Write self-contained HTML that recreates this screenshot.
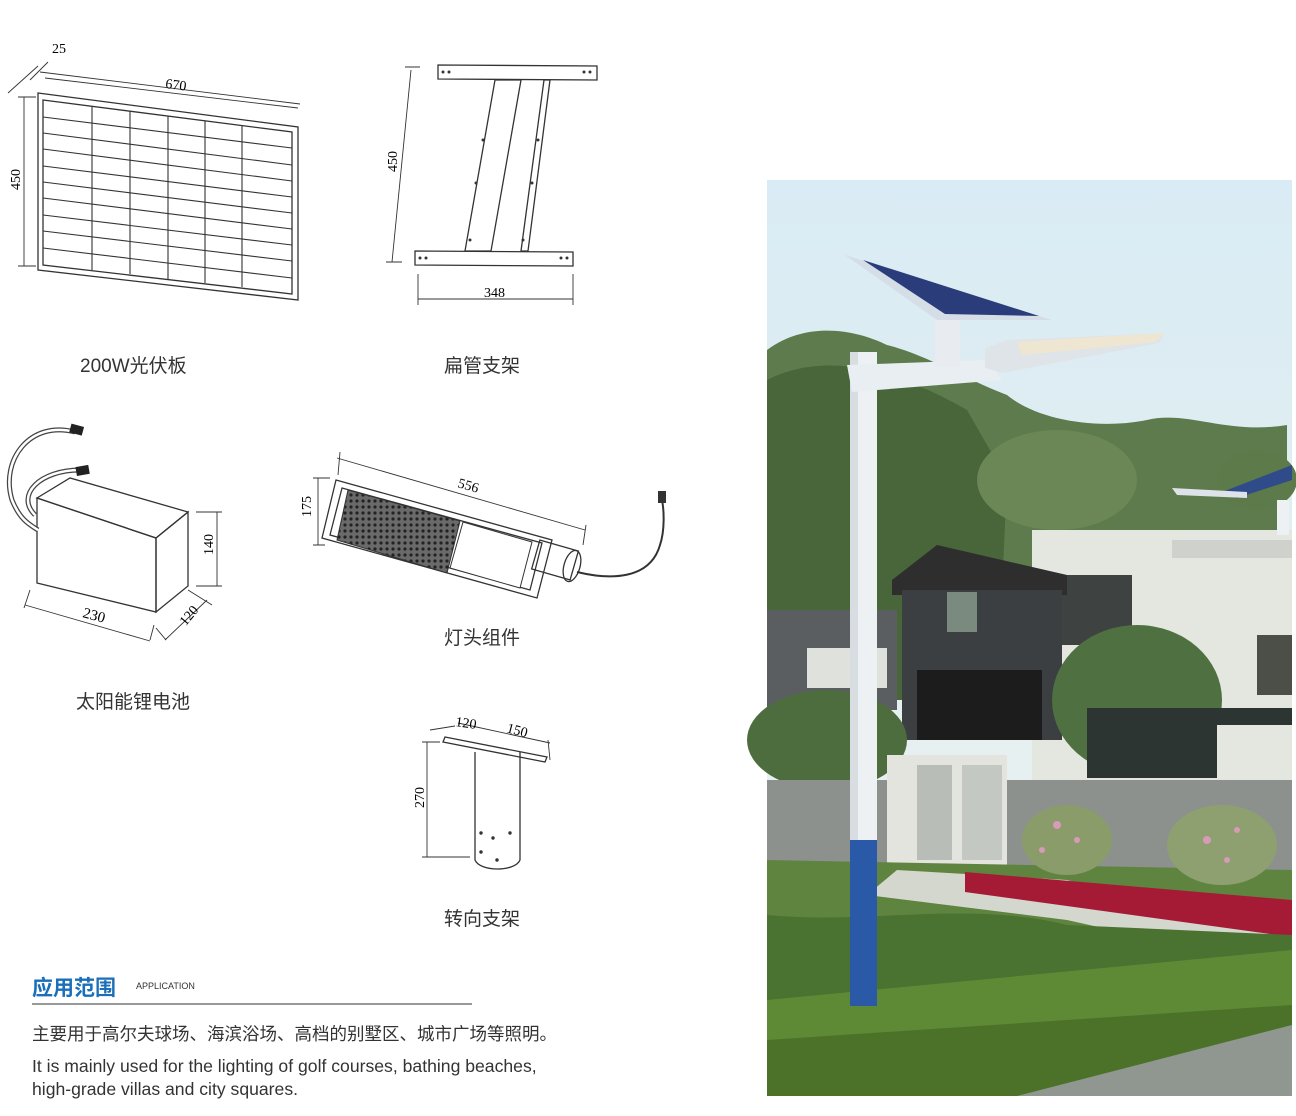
<!DOCTYPE html>
<html><head><meta charset="utf-8"><style>
body{margin:0;background:#fff;width:1296px;height:1116px;overflow:hidden;position:relative;font-family:"Liberation Sans","Noto Sans CJK SC",sans-serif;}
.t{position:absolute;color:#333;white-space:nowrap}
</style></head><body>
<svg width="1296" height="1116" style="position:absolute;left:0;top:0" font-family="Liberation Serif, serif">
<defs>
<linearGradient id="sky" x1="0" y1="0" x2="0" y2="1"><stop offset="0" stop-color="#d9ebf4"/><stop offset="1" stop-color="#eef3ee"/></linearGradient>
<pattern id="cells" width="6" height="6" patternUnits="userSpaceOnUse"><rect width="6" height="6" fill="#6a6a6a"/><circle cx="3" cy="3" r="1.6" fill="#222"/></pattern>
</defs>
<!-- solar panel drawing -->
<g fill="none" stroke="#333" stroke-width="1.3">
<polygon points="38,93 298,127 298,300 38,270"/>
<polygon points="43,100 292,132 292,294 43,265"/>
<g stroke-width="1.1">
<path d="M92,106V270 M130,111V274 M168,116V279 M205,121V283 M242,126V287"/>
<path d="M43,117L292,148 M43,133L292,165 M43,149L292,181 M43,166L292,197 M43,182L292,213 M43,198L292,229 M43,215L292,245 M43,231L292,261 M43,248L292,278"/>
</g>
<g stroke-width="0.9">
<path d="M24,97V266 M18,97H36 M18,266H36"/>
<path d="M45,78L298,108 M40,72L300,104"/>
<path d="M8,93L38,66 M30,80L48,62"/>
</g>
</g>
<text x="165" y="88" font-size="14" transform="rotate(7 165 88)">670</text>
<text x="20" y="190" font-size="14" transform="rotate(-90 20 190)">450</text>
<text x="52" y="53" font-size="14">25</text>
<!-- flat tube bracket -->
<g fill="none" stroke="#333" stroke-width="1.3">
<polygon points="438,65 597,66 597,80 438,79"/>
<polygon points="415,251 573,252 573,266 415,265"/>
<polygon points="495,80 521,80 491,251 465,251"/>
<polygon points="544,80 550,80 528,251 521,251"/>
<g stroke-width="0.9"><path d="M411,70L392,262 M405,67H420 M386,262H402 M418,274V305 M573,274V305 M418,299H573"/></g>
</g>
<g fill="#333"><circle cx="443" cy="72" r="1.5"/><circle cx="449" cy="72" r="1.5"/><circle cx="584" cy="72" r="1.5"/><circle cx="590" cy="72" r="1.5"/><circle cx="420" cy="258" r="1.5"/><circle cx="426" cy="258" r="1.5"/><circle cx="561" cy="258" r="1.5"/><circle cx="567" cy="258" r="1.5"/><circle cx="483" cy="140" r="1.5"/><circle cx="476" cy="183" r="1.5"/><circle cx="538" cy="140" r="1.5"/><circle cx="532" cy="183" r="1.5"/><circle cx="470" cy="240" r="1.5"/><circle cx="523" cy="240" r="1.5"/></g>
<text x="397" y="172" font-size="14" transform="rotate(-90 397 172)">450</text>
<text x="484" y="297" font-size="14">348</text>
<!-- battery -->
<g fill="none" stroke="#333" stroke-width="1.3">
<polygon points="37,498 156,538 156,612 37,583"/>
<polygon points="37,498 70,478 188,512 156,538"/>
<polygon points="156,538 188,512 188,586 156,612"/>
<path d="M75,432C30,420 0,460 12,500C20,520 30,525 38,530" stroke-width="5" stroke="#444"/>
<path d="M75,432C30,420 0,460 12,500C20,520 30,525 38,530" stroke-width="2.5" stroke="#fff"/>
<path d="M80,470C40,470 15,495 35,515" stroke-width="5" stroke="#444"/>
<path d="M80,470C40,470 15,495 35,515" stroke-width="2.5" stroke="#fff"/>
<g stroke-width="0.9"><path d="M196,512H222 M196,586H222 M217,512V586 M30,590L24,608 M25,605L150,641 M150,640L154,625 M156,628L166,640 M188,590L212,605 M165,640L207,600"/></g>
</g>
<rect x="70" y="425" width="13" height="9" fill="#222" transform="rotate(15 76 430)"/>
<rect x="76" y="466" width="13" height="9" fill="#222" transform="rotate(-10 82 470)"/>
<text x="213" y="555" font-size="14" transform="rotate(-90 213 555)">140</text>
<text x="82" y="617" font-size="15" transform="rotate(15 82 617)">230</text>
<text x="177" y="624" font-size="14" transform="rotate(-50 184 616)">120</text>
<!-- lamp head -->
<g fill="none" stroke="#333" stroke-width="1.3">
<polygon points="336,480 552,540 537,598 322,538" />
<polygon points="342,488 542,543 530,590 330,535" />
<rect x="535" y="545" width="40" height="30" transform="rotate(16 555 560)"/>
<ellipse cx="572" cy="566" rx="8" ry="16" transform="rotate(16 572 566)"/>
<path d="M577,572C610,580 650,580 660,545C665,530 664,510 662,500" stroke-width="2"/>
<g stroke-width="0.9"><path d="M318,478V545 M313,478H330 M313,545H325 M337,458L585,530 M340,452L338,475 M586,525L583,545"/></g>
</g>
<polygon points="348,490 460,521 447,573 337,540" fill="url(#cells)" stroke="#333"/>
<polygon points="463,522 532,542 520,588 450,568" fill="#fff" stroke="#333"/>
<rect x="658" y="491" width="8" height="12" fill="#333"/>
<text x="311" y="517" font-size="14" transform="rotate(-90 311 517)">175</text>
<text x="457" y="487" font-size="14" transform="rotate(16 457 487)">556</text>
<!-- turning bracket -->
<g fill="none" stroke="#333" stroke-width="1.3">
<path d="M475,752V860C480,872 515,872 520,860V752"/>
<polygon points="445,737 547,757 545,762 443,742"/>
<g stroke-width="0.9"><path d="M427,742V857 M422,742H440 M422,857H470 M430,730L455,726 M458,723L550,743 M548,740L550,760"/></g>
</g>
<g fill="#333"><circle cx="481" cy="833" r="1.7"/><circle cx="493" cy="838" r="1.7"/><circle cx="510" cy="833" r="1.7"/><circle cx="481" cy="852" r="1.7"/><circle cx="497" cy="860" r="1.7"/></g>
<text x="424" y="808" font-size="14" transform="rotate(-90 424 808)">270</text>
<text x="455" y="726" font-size="14" transform="rotate(8 455 726)">120</text>
<text x="506" y="732" font-size="14" transform="rotate(15 506 732)">150</text>
<line x1="32" y1="1004" x2="472" y2="1004" stroke="#333" stroke-width="1"/>
<!-- photo -->
<g transform="translate(767,180)">
<rect width="525" height="916" fill="url(#sky)"/>
<path d="M0,170C40,140 90,150 120,165C160,175 200,200 240,215C270,240 330,250 380,240C420,230 460,255 520,245V520H0Z" fill="#5d7b4c"/>
<path d="M0,200C60,170 130,190 200,230L240,300L230,520H0Z" fill="#48663a"/>
<ellipse cx="290" cy="300" rx="80" ry="50" fill="#6b8756"/>
<ellipse cx="490" cy="300" rx="40" ry="30" fill="#5c7a4a"/>
<rect x="265" y="350" width="260" height="250" fill="#e4e6e0"/>
<rect x="270" y="395" width="95" height="70" fill="#3e4240"/>
<rect x="405" y="360" width="120" height="18" fill="#cfd2cc"/>
<rect x="490" y="455" width="35" height="60" fill="#4c4e48"/>
<rect x="0" y="430" width="130" height="100" fill="#5a5e60"/>
<rect x="40" y="468" width="80" height="40" fill="#dfe1dc"/>
<polygon points="125,400 170,365 300,395 300,415 125,415" fill="#2e2e2e"/>
<rect x="135" y="410" width="160" height="150" fill="#3b3f42"/>
<rect x="150" y="490" width="125" height="70" fill="#1c1c1c"/>
<rect x="180" y="412" width="30" height="40" fill="#7a8a7f"/>
<ellipse cx="370" cy="520" rx="85" ry="75" fill="#4f7040"/>
<rect x="320" y="528" width="205" height="70" fill="#2d3533"/>
<rect x="450" y="545" width="75" height="55" fill="#e4e6e0"/>
<ellipse cx="60" cy="560" rx="80" ry="50" fill="#4e6d3e"/>
<rect x="0" y="600" width="525" height="90" fill="#8c918e"/>
<rect x="120" y="575" width="120" height="110" fill="#e2e4dd"/>
<rect x="150" y="585" width="35" height="95" fill="#b9bdb8"/>
<rect x="195" y="585" width="40" height="95" fill="#c4c8c2"/>
<path d="M0,680L525,690V916H0Z" fill="#5f8440"/>
<path d="M130,690L300,700L525,760V790L300,740L100,715Z" fill="#d3d7cd"/>
<path d="M198,692L525,720V757L198,712Z" fill="#a51a34"/>
<ellipse cx="300" cy="660" rx="45" ry="35" fill="#8a9c6a"/>
<ellipse cx="455" cy="665" rx="55" ry="40" fill="#8ea070"/>
<g fill="#d79ab8"><circle cx="290" cy="645" r="4"/><circle cx="310" cy="660" r="3"/><circle cx="440" cy="660" r="4"/><circle cx="470" cy="650" r="3"/><circle cx="460" cy="680" r="3"/><circle cx="275" cy="670" r="3"/></g>
<path d="M0,735C100,745 200,720 300,745L525,755V820L0,830Z" fill="#4a7230"/>
<path d="M0,820L525,770V835L0,880Z" fill="#5e8a36"/>
<path d="M0,860L525,825V916H0Z" fill="#4c7229"/>
<path d="M250,916L525,845V916Z" fill="#8f9790"/>
<rect x="83" y="172" width="27" height="490" fill="#eef1f4"/>
<rect x="83" y="172" width="8" height="490" fill="#d8dde2"/>
<rect x="83" y="660" width="27" height="166" fill="#2a59a8"/>
<path d="M80,185L220,180L235,200L85,212Z" fill="#e9eef2"/>
<rect x="168" y="137" width="25" height="50" fill="#e8ecf0"/>
<polygon points="78,75 285,140 170,140" fill="#d5dde6"/>
<polygon points="96,80 272,136 178,134" fill="#2a3d7a"/>
<polygon points="218,168 240,160 398,153 392,163 235,193 218,188" fill="#dfe4e8"/>
<polygon points="250,162 398,153 388,162 255,175" fill="#efe6d2"/>
<polygon points="455,312 525,285 525,300 470,318" fill="#2f4b8a"/>
<polygon points="405,308 480,312 480,318 410,315" fill="#dde3e8"/>
<rect x="510" y="320" width="12" height="35" fill="#eef1f4"/>
</g>
</svg>
<div class="t" style="left:80px;top:351px;font-size:19px">200W光伏板</div>
<div class="t" style="left:444px;top:351px;font-size:19px">扁管支架</div>
<div class="t" style="left:76px;top:687px;font-size:19px">太阳能锂电池</div>
<div class="t" style="left:444px;top:623px;font-size:19px">灯头组件</div>
<div class="t" style="left:444px;top:904px;font-size:19px">转向支架</div>
<div class="t" style="left:32px;top:972px;font-size:21px;font-weight:bold;color:#1a6fb8">应用范围</div>
<div class="t" style="left:136px;top:981px;font-size:9px">APPLICATION</div>
<div class="t" style="left:32px;top:1021px;font-size:17.5px">主要用于高尔夫球场、海滨浴场、高档的别墅区、城市广场等照明。</div>
<div class="t" style="left:32px;top:1056px;font-size:17.6px">It is mainly used for the lighting of golf courses, bathing beaches,</div>
<div class="t" style="left:32px;top:1079px;font-size:17.6px">high-grade villas and city squares.</div>
</body></html>
